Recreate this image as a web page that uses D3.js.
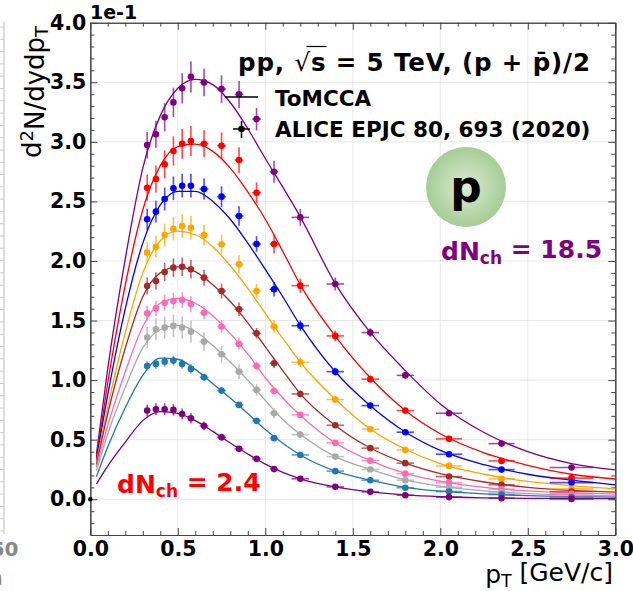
<!DOCTYPE html>
<meta charset="utf-8">
<script src="https://d3js.org/d3.v7.min.js"></script>
<style>
  body { margin: 0; background: #fff; }
  text { font-family: "DejaVu Sans", sans-serif; }
</style>
<div id="my_dataviz"></div>
<script>

// pT bin centres and half widths drawn as x error bars (GeV/c)
var ptCenters = [0.325, 0.375, 0.425, 0.475, 0.525, 0.575, 0.65, 0.75, 0.85, 0.95, 1.05, 1.2, 1.4, 1.6, 1.8, 2.05, 2.35, 2.75]
var ptErr = [0.0125, 0.0125, 0.0125, 0.0125, 0.0125, 0.0125, 0.025, 0.025, 0.025, 0.025, 0.025, 0.05, 0.05, 0.05, 0.05, 0.075, 0.075, 0.125]
var errShape = [1, 1, 1, 1, 1, 1, 0.9, 0.9, 0.9, 0.8, 0.9, 0.8, 0.8, 0.7, 0.7, 0.7, 0.7, 0.7]

// ALICE points, units of 1e-1, top (dNch = 18.5) to bottom (dNch = 2.4)
var alice1 = [2.973, 3.063, 3.206, 3.331, 3.449, 3.546, 3.499, 3.443, 3.398, 3.191, 2.749, 2.366, 1.807, 1.399, 1.040, 0.722, 0.467, 0.266]
var alice2 = [2.615, 2.688, 2.811, 2.923, 2.984, 3.007, 2.984, 2.967, 2.847, 2.573, 2.143, 1.793, 1.371, 1.008, 0.744, 0.507, 0.322, 0.177]
var alice3 = [2.350, 2.414, 2.520, 2.610, 2.632, 2.632, 2.604, 2.540, 2.378, 2.143, 1.763, 1.457, 1.071, 0.786, 0.563, 0.378, 0.249, 0.140]
var alice4 = [2.070, 2.120, 2.218, 2.271, 2.294, 2.279, 2.218, 2.140, 1.972, 1.748, 1.449, 1.150, 0.837, 0.588, 0.414, 0.280, 0.171, 0.087]
var alice5 = [1.790, 1.832, 1.908, 1.944, 1.952, 1.930, 1.860, 1.748, 1.595, 1.393, 1.142, 0.884, 0.621, 0.429, 0.303, 0.190, 0.121, 0.065]
var alice6 = [1.561, 1.603, 1.650, 1.664, 1.673, 1.639, 1.566, 1.449, 1.304, 1.119, 0.909, 0.708, 0.473, 0.324, 0.215, 0.140, 0.085, 0.045]
var alice7 = [1.357, 1.427, 1.441, 1.455, 1.441, 1.407, 1.323, 1.217, 1.071, 0.918, 0.722, 0.543, 0.358, 0.250, 0.160, 0.101, 0.060, 0.023]
var alice8 = [1.119, 1.136, 1.155, 1.164, 1.136, 1.094, 1.024, 0.912, 0.792, 0.658, 0.513, 0.372, 0.236, 0.160, 0.097, 0.065, 0.040, 0.018]
var alice9 = [0.744, 0.756, 0.756, 0.750, 0.716, 0.680, 0.616, 0.521, 0.423, 0.339, 0.253, 0.172, 0.104, 0.062, 0.034, 0.018, 0.009, 0.003]
var relErr = [0.037, 0.042, 0.038, 0.043, 0.04, 0.04, 0.065, 0.035, 0.065]

// ToMCCA curves
var curvePt = [0.035, 0.1, 0.2, 0.3, 0.4, 0.5, 0.6, 0.7, 0.8, 0.9, 1.0, 1.1, 1.2, 1.4, 1.6, 1.8, 2.0, 2.25, 2.5, 2.75, 3.0]
var model1 = [0.38, 1.10, 2.02, 2.78, 3.22, 3.45, 3.525, 3.48, 3.33, 3.11, 2.86, 2.62, 2.37, 1.81, 1.40, 1.08, 0.80, 0.56, 0.40, 0.30, 0.247]
var model2 = [0.35, 0.98, 1.80, 2.43, 2.80, 2.96, 2.98, 2.92, 2.78, 2.58, 2.35, 2.08, 1.80, 1.37, 1.02, 0.745, 0.55, 0.39, 0.285, 0.21, 0.17]
var model3 = [0.33, 0.88, 1.60, 2.15, 2.47, 2.585, 2.585, 2.50, 2.35, 2.15, 1.93, 1.70, 1.46, 1.07, 0.785, 0.565, 0.41, 0.29, 0.21, 0.16, 0.121]
var model4 = [0.31, 0.78, 1.40, 1.90, 2.17, 2.25, 2.22, 2.12, 1.96, 1.77, 1.56, 1.35, 1.15, 0.84, 0.59, 0.42, 0.30, 0.21, 0.15, 0.115, 0.087]
var model5 = [0.29, 0.72, 1.27, 1.70, 1.90, 1.95, 1.91, 1.80, 1.66, 1.48, 1.28, 1.08, 0.885, 0.62, 0.43, 0.303, 0.215, 0.145, 0.10, 0.075, 0.06]
var model6 = [0.27, 0.62, 1.07, 1.45, 1.645, 1.685, 1.645, 1.54, 1.39, 1.22, 1.02, 0.85, 0.705, 0.472, 0.325, 0.218, 0.152, 0.10, 0.07, 0.053, 0.043]
var model7 = [0.24, 0.55, 0.94, 1.27, 1.425, 1.46, 1.41, 1.29, 1.15, 1.00, 0.83, 0.67, 0.545, 0.358, 0.25, 0.162, 0.11, 0.07, 0.047, 0.035, 0.029]
var model8 = [0.19, 0.44, 0.77, 1.04, 1.185, 1.175, 1.09, 0.97, 0.85, 0.72, 0.585, 0.47, 0.372, 0.237, 0.16, 0.10, 0.068, 0.045, 0.03, 0.022, 0.018]
var model9 = [0.127, 0.28, 0.48, 0.66, 0.735, 0.72, 0.66, 0.57, 0.472, 0.38, 0.295, 0.225, 0.172, 0.104, 0.062, 0.036, 0.021, 0.012, 0.008, 0.006, 0.005]

var xTicks = [0.0, 0.5, 1.0, 1.5, 2.0, 2.5, 3.0]
var yTicks = [0.0, 0.5, 1.0, 1.5, 2.0, 2.5, 3.0, 3.5, 4.0]

var aliceSets = [alice1, alice2, alice3, alice4, alice5, alice6, alice7, alice8, alice9]
var modelSets = [model1, model2, model3, model4, model5, model6, model7, model8, model9]
var colors = ["#800080", "#ff0000", "#0000ff", "#ffa500", "#a52a2a", "#ff69b4", "#a9a9a9", "#1f77b4", "#800080"]

var width = 633, height = 591
var pLeft = 90.3, pRight = 615.3, pTop = 22.7, pBottom = 535

var svg = d3.select("#my_dataviz").append("svg")
    .attr("width", width)
    .attr("height", height)

var x = d3.scaleLinear().domain([0, 3]).range([pLeft, pRight])
var y = d3.scaleLinear().domain([-0.3, 4.0]).range([pBottom, pTop])

// edge of the neighbouring panel
var yEdge = d3.scaleLinear().domain([0, 41]).range([27, 531])
svg.append("line").attr("x1", 4).attr("x2", 4).attr("y1", 22).attr("y2", 534)
    .attr("stroke", "#bbb").attr("stroke-width", 1)
svg.selectAll(".edgetick").data(d3.range(42)).enter().append("line")
    .attr("x1", 0).attr("x2", 4)
    .attr("y1", function(d){ return yEdge(d) }).attr("y2", function(d){ return yEdge(d) })
    .attr("stroke", "#ccc").attr("stroke-width", 1)
svg.append("text").attr("x", 18.5).attr("y", 556).attr("text-anchor", "end")
    .style("font-size", "20px").style("font-weight", "bold").attr("fill", "#888").text("50")
svg.append("text").attr("x", 3).attr("y", 585).attr("text-anchor", "end")
    .style("font-size", "22px").attr("fill", "#888").text("n")

// grid
svg.selectAll(".gx").data(xTicks.slice(1, -1)).enter().append("line")
    .attr("x1", function(d){ return x(d) }).attr("x2", function(d){ return x(d) })
    .attr("y1", pTop).attr("y2", pBottom)
    .attr("stroke", "#e2e2e2").attr("stroke-width", 0.8)
svg.selectAll(".gy").data(yTicks.slice(0, -1)).enter().append("line")
    .attr("y1", function(d){ return y(d) }).attr("y2", function(d){ return y(d) })
    .attr("x1", pLeft).attr("x2", pRight)
    .attr("stroke", "#e2e2e2").attr("stroke-width", 0.8)

// axes with inward ticks on all sides
var xMinor = d3.range(0, 3.001, 0.1).filter(function(d){ return Math.abs(d * 2 - Math.round(d * 2)) > 0.01 })
var yMinor = d3.range(-0.2, 4.001, 0.1).filter(function(d){ return Math.abs(d * 2 - Math.round(d * 2)) > 0.01 })

function styleAxis(g) {
  g.selectAll("path").attr("stroke", "#444").attr("stroke-width", 1.1)
  g.selectAll("line").attr("stroke", "#444").attr("stroke-width", 1)
  g.selectAll("text").style("font-size", "20.5px").style("font-weight", "bold")
    .style("font-family", "DejaVu Sans").attr("fill", "#000")
}

svg.append("g").attr("transform", "translate(0," + pBottom + ")")
    .call(d3.axisBottom(x).tickValues(xTicks).tickSize(-7).tickSizeOuter(0).tickPadding(6).tickFormat(d3.format(".1f")))
    .call(styleAxis)
svg.append("g").attr("transform", "translate(0," + pBottom + ")")
    .call(d3.axisBottom(x).tickValues(xMinor).tickSize(-4).tickSizeOuter(0).tickFormat(""))
    .call(styleAxis)
svg.append("g").attr("transform", "translate(0," + pTop + ")")
    .call(d3.axisTop(x).tickValues(xTicks).tickSize(-7).tickSizeOuter(0).tickFormat(""))
    .call(styleAxis)
svg.append("g").attr("transform", "translate(0," + pTop + ")")
    .call(d3.axisTop(x).tickValues(xMinor).tickSize(-4).tickSizeOuter(0).tickFormat(""))
    .call(styleAxis)
svg.append("g").attr("transform", "translate(" + pLeft + ",0)")
    .call(d3.axisLeft(y).tickValues(yTicks).tickSize(-7).tickSizeOuter(0).tickPadding(4).tickFormat(d3.format(".1f")))
    .call(styleAxis)
svg.append("g").attr("transform", "translate(" + pLeft + ",0)")
    .call(d3.axisLeft(y).tickValues(yMinor).tickSize(-4).tickSizeOuter(0).tickFormat(""))
    .call(styleAxis)
svg.append("g").attr("transform", "translate(" + pRight + ",0)")
    .call(d3.axisRight(y).tickValues(yTicks).tickSize(-7).tickSizeOuter(0).tickFormat(""))
    .call(styleAxis)
svg.append("g").attr("transform", "translate(" + pRight + ",0)")
    .call(d3.axisRight(y).tickValues(yMinor).tickSize(-4).tickSizeOuter(0).tickFormat(""))
    .call(styleAxis)

// model curves
var line = d3.line()
    .x(function(d){ return x(d[0]) })
    .y(function(d){ return y(d[1]) })
    .curve(d3.curveMonotoneX)

modelSets.forEach(function(vals, k) {
  svg.append("path")
    .datum(curvePt.map(function(p, i){ return [p, vals[i]] }))
    .attr("d", line)
    .attr("fill", "none")
    .attr("stroke", colors[k])
    .attr("stroke-width", 1.3)
})

// data points with error bars
aliceSets.forEach(function(vals, k) {
  var pts = vals.map(function(v, i){ return {x: ptCenters[i], xe: ptErr[i], y: v, ye: v * relErr[k] * errShape[i]} })
  var g = svg.append("g")
  g.selectAll(".ex").data(pts).enter().append("line")
    .attr("x1", function(d){ return x(d.x - d.xe) }).attr("x2", function(d){ return x(d.x + d.xe) })
    .attr("y1", function(d){ return y(d.y) }).attr("y2", function(d){ return y(d.y) })
    .attr("stroke", colors[k]).attr("stroke-width", 1.6).attr("opacity", 0.7)
  g.selectAll(".ey").data(pts).enter().append("line")
    .attr("x1", function(d){ return x(d.x) }).attr("x2", function(d){ return x(d.x) })
    .attr("y1", function(d){ return y(d.y - d.ye) }).attr("y2", function(d){ return y(d.y + d.ye) })
    .attr("stroke", colors[k]).attr("stroke-width", 1.6).attr("opacity", 0.7)
  g.selectAll("circle").data(pts).enter().append("circle")
    .attr("cx", function(d){ return x(d.x) })
    .attr("cy", function(d){ return y(d.y) })
    .attr("r", 3.3)
    .attr("fill", colors[k])
})

svg.append("circle").attr("cx", x(0)).attr("cy", y(0)).attr("r", 2.3).attr("fill", "#000")

// texts
svg.append("text").attr("x", 90).attr("y", 19)
    .style("font-size", "19px").style("font-weight", "bold").text("1e-1")

var yl = svg.append("text")
    .attr("transform", "translate(41,92) rotate(-90)")
    .attr("text-anchor", "middle")
    .style("font-size", "26px")
yl.append("tspan").text("d")
yl.append("tspan").attr("dy", "-0.42em").style("font-size", "18px").text("2")
yl.append("tspan").attr("dy", "0.42em").text("N/dydp")
yl.append("tspan").attr("dy", "0.22em").style("font-size", "18px").text("T")

var xl = svg.append("text").attr("x", 613).attr("y", 583)
    .attr("text-anchor", "end").style("font-size", "25px")
xl.append("tspan").text("p")
xl.append("tspan").attr("dy", "0.22em").style("font-size", "17px").text("T")
xl.append("tspan").attr("dy", "-0.22em").text(" [GeV/c]")

var title = svg.append("text").attr("x", 238).attr("y", 71)
    .attr("textLength", 352).attr("lengthAdjust", "spacing")
    .style("font-size", "24.5px").style("font-weight", "bold")
title.append("tspan").text("pp, ")
title.append("tspan").style("font-weight", "normal").text("\u221A")
title.append("tspan").text("s")
title.append("tspan").text(" = 5 TeV, (p + p\u0304)/2")
var tn = title.node()
svg.append("line")
    .attr("x1", tn.getStartPositionOfChar(4).x + 12).attr("x2", tn.getEndPositionOfChar(5).x + 1)
    .attr("y1", 46.5).attr("y2", 46.5)
    .attr("stroke", "#000").attr("stroke-width", 1.2)

svg.append("line").attr("x1", 225).attr("x2", 258).attr("y1", 97).attr("y2", 97)
    .attr("stroke", "#000").attr("stroke-width", 1.5)
svg.append("text").attr("x", 275).attr("y", 106)
    .style("font-size", "21.5px").style("font-weight", "bold").text("ToMCCA")

svg.append("line").attr("x1", 233).attr("x2", 250).attr("y1", 129).attr("y2", 129)
    .attr("stroke", "#000").attr("stroke-width", 1.5)
svg.append("line").attr("x1", 241.5).attr("x2", 241.5).attr("y1", 121).attr("y2", 138)
    .attr("stroke", "#000").attr("stroke-width", 1.5)
svg.append("circle").attr("cx", 241.5).attr("cy", 129).attr("r", 3.3).attr("fill", "#000")
svg.append("text").attr("x", 275).attr("y", 137)
    .style("font-size", "21.5px").style("font-weight", "bold").text("ALICE EPJC 80, 693 (2020)")

var grad = svg.append("defs").append("radialGradient").attr("id", "ball")
grad.append("stop").attr("offset", "0%").attr("stop-color", "#dcecd4")
grad.append("stop").attr("offset", "100%").attr("stop-color", "#a5cc95")
svg.append("circle").attr("cx", 466).attr("cy", 187).attr("r", 40).attr("fill", "url(#ball)")
svg.append("text").attr("x", 466).attr("y", 202).attr("text-anchor", "middle")
    .style("font-size", "44px").style("font-weight", "bold").text("p")

function dnLabel(xp, yp, value, color) {
  var t = svg.append("text").attr("x", xp).attr("y", yp)
      .style("font-size", "25px").style("font-weight", "bold").attr("fill", color)
  t.append("tspan").text("dN")
  t.append("tspan").attr("dy", "0.25em").style("font-size", "17px").text("ch")
  t.append("tspan").attr("dy", "-0.25em").text(" = " + value)
}
dnLabel(441, 260, "18.5", "#800080")
dnLabel(117, 492.5, "2.4", "#ff0000")

</script>
